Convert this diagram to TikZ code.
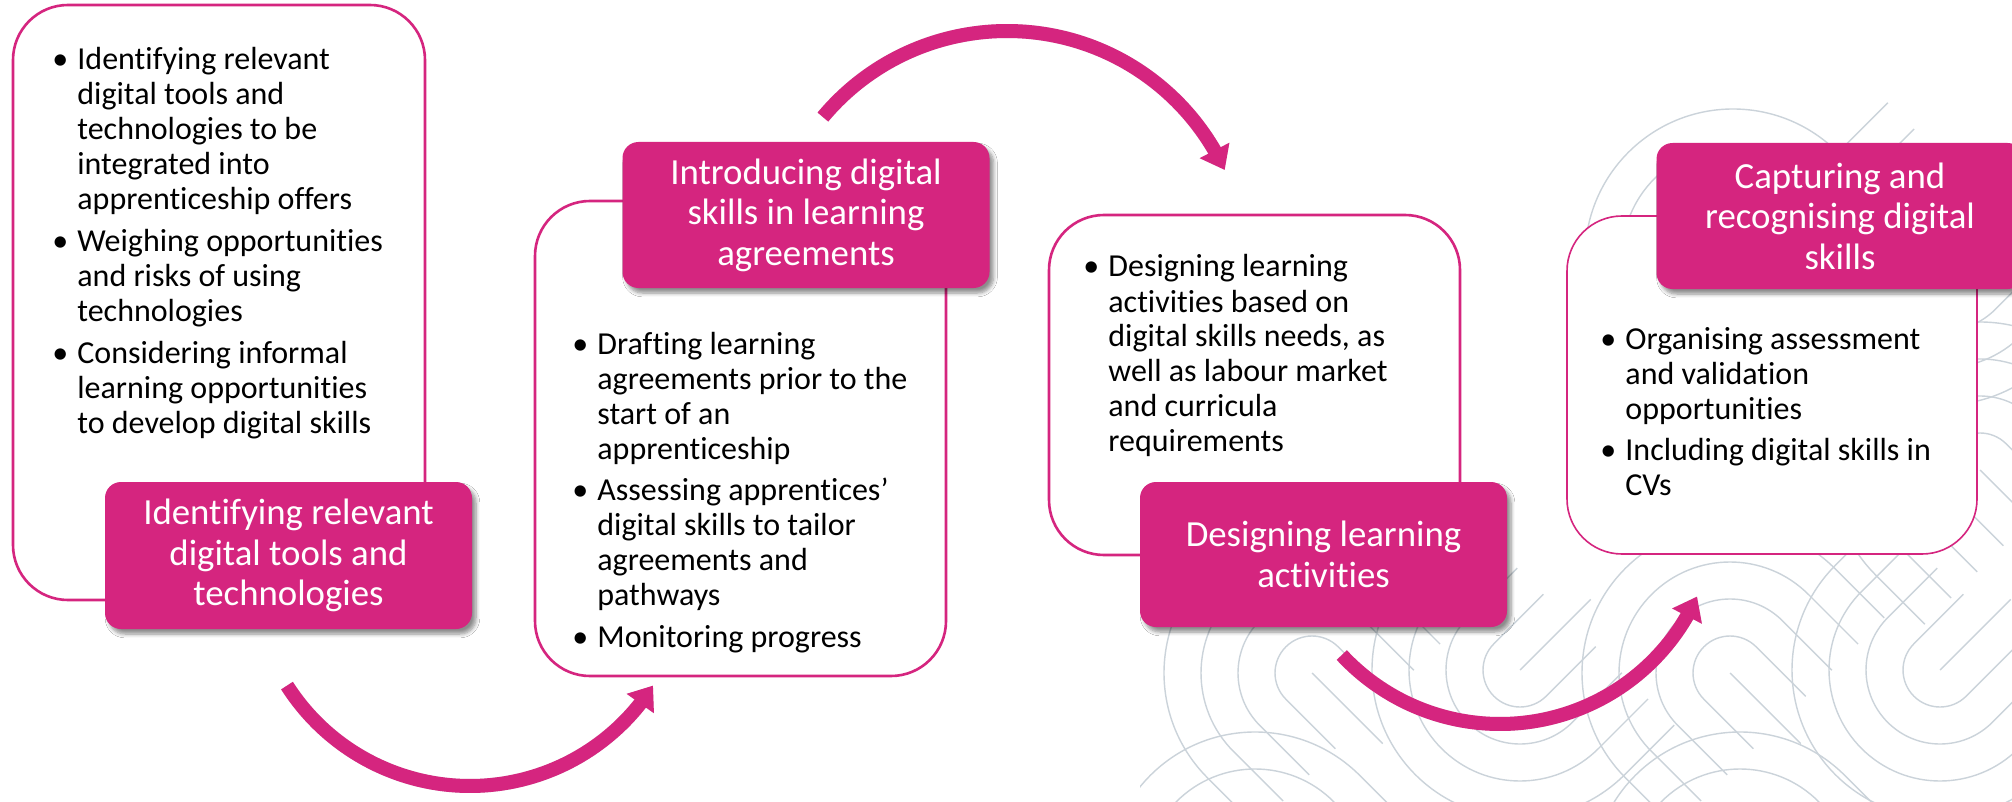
\documentclass[tikz,border=0pt]{standalone}
\usepackage{fontspec}
\setmainfont{Carlito}[Ligatures=NoCommon]
\usetikzlibrary{arrows.meta,bending,shadows.blur}
\definecolor{pk}{HTML}{D5257F}
\definecolor{bgl}{HTML}{CBD3DA}
\newcommand{\bitem}[1]{\par\noindent\hangindent=12.5pt\hangafter=1\makebox[12.5pt][l]{\textbullet}#1\par}
\newcommand{\blist}[1]{\parbox[t]{200pt}{\fontsize{16pt}{17.5pt}\selectfont\setlength{\parskip}{3.3pt}#1}}
\newcommand{\hairpin}[3]{%
  \begin{scope}[shift={(#1,#2)},rotate=#3]
    \draw[bgline] (0,0) -- (0,100);
    \foreach \rr in {37,74,111,148}{\draw[bgline] (-\rr,70) -- (-\rr,0) arc[start angle=180,end angle=360,radius=\rr] -- (\rr,70);}
  \end{scope}}
\begin{document}
\begin{tikzpicture}[x=0.5pt,y=-0.5pt,
  bgline/.style={draw=bgl,line width=0.7pt},
  obox/.style={draw=pk,line width=1.3pt,fill=white,rounded corners=27.5pt,inner sep=0pt},
  tbox/.style={fill=pk,rounded corners=8pt,text=white,inner sep=0pt,align=center,
    minimum width=183.5pt,minimum height=73pt,
    font=\fontsize{18.4pt}{20.25pt}\selectfont,
    blur shadow={shadow xshift=2pt,shadow yshift=-2.5pt,shadow blur steps=6,shadow opacity=45}},
  txt/.style={anchor=base west,inner sep=0pt},
  flow/.style={draw=pk,line width=7pt,-{Triangle[length=11pt,width=16pt]}},
  flowsh/.style={draw=black!12,line width=7pt,-{Triangle[length=11pt,width=16pt]}}]
\useasboundingbox (0,0) rectangle (2012,802);
\fill[white] (0,0) rectangle (2012,802);
% background pattern
\begin{scope}
  \clip (1140,802) -- (1140,610) -- (1470,560) -- (1560,100) -- (2012,100) -- (2012,802) -- cycle;
  \hairpin{1733}{257}{45}
  \hairpin{1943}{257}{135}
  \hairpin{1312}{673}{45}
  \hairpin{1520}{670}{135}
  \hairpin{1730}{673}{45}
  \hairpin{1940}{670}{135}
  \hairpin{1255}{880}{45}
  \hairpin{1740}{880}{45}
  \hairpin{1980}{470}{45}
\end{scope}
% outline boxes
\node[obox,minimum width=206pt,minimum height=297.5pt] (o1) at (219,302.5) {};
\node[obox,minimum width=205.5pt,minimum height=237.5pt] (o2) at (740.5,438.5) {};
\node[obox,minimum width=205.5pt,minimum height=170pt] (o3) at (1254.5,385) {};
\node[obox,line width=0.8pt,minimum width=205pt,minimum height=169pt] (o4) at (1772,385) {};
% bullet texts
\node[txt] (l1) at (52,70) {\blist{%
\bitem{Identifying relevant\\digital tools and\\technologies to be\\integrated into\\apprenticeship offers}%
\bitem{Weighing opportunities\\and risks of using\\technologies}%
\bitem{Considering informal\\learning opportunities\\to develop digital skills}}};
\node[txt] (l2) at (572,354) {\blist{%
\bitem{Drafting learning\\agreements prior to the\\start of an\\apprenticeship}%
\bitem{Assessing apprentices’\\digital skills to tailor\\agreements and\\pathways}%
\bitem{Monitoring progress}}};
\node[txt] (l3) at (1083,277) {\blist{%
\bitem{Designing learning\\activities based on\\digital skills needs, as\\well as labour market\\and curricula\\requirements}}};
\node[txt] (l4) at (1600,349) {\blist{%
\bitem{Organising assessment\\and validation\\opportunities}%
\bitem{Including digital skills in\\CVs}}};
% title boxes
\node[tbox,minimum height=73.5pt] (t1) at (288.5,555.5) {Identifying relevant\\digital tools and\\technologies};
\node[tbox] (t2) at (806,215) {Introducing digital\\skills in learning\\agreements};
\node[tbox,minimum height=72.5pt] (t3) at (1323.5,554.5) {Designing learning\\activities};
\node[tbox] (t4) at (1840,216) {Capturing and\\recognising digital\\skills};
% arrows
\coordinate (a1c) at (470,569);
\coordinate (a2c) at (1007,271);
\coordinate (a3c) at (1500,508);
\path (a1c) ++(147.5:217) coordinate (a1s);
\path (a2c) ++(-140.1:240) coordinate (a2s);
\path (a3c) ++(137.1:216) coordinate (a3s);
\begin{scope}[shift={(3,5)}]
\draw[flowsh] (a1s) arc[start angle=147.5,end angle=32.5,radius=217];
\draw[flowsh] (a2s) arc[start angle=-140.1,end angle=-24.9,radius=240];
\draw[flowsh] (a3s) arc[start angle=137.1,end angle=24.2,radius=216];
\end{scope}
\draw[flow] (a1s) arc[start angle=147.5,end angle=32.5,radius=217];
\draw[flow] (a2s) arc[start angle=-140.1,end angle=-24.9,radius=240];
\draw[flow] (a3s) arc[start angle=137.1,end angle=24.2,radius=216];
\end{tikzpicture}
\end{document}
